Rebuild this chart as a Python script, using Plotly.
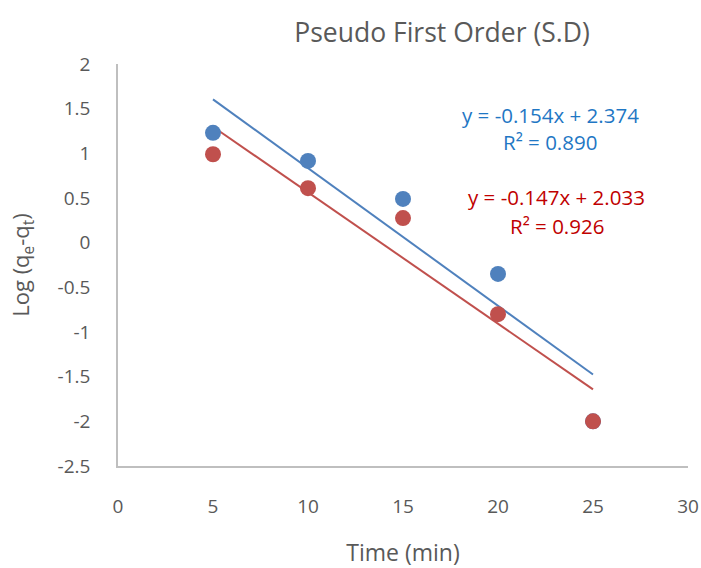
import plotly.graph_objects as go

time_min = [5, 10, 15, 20, 25]
blue_log = [1.23, 0.915, 0.49, -0.35, -2.0]
red_log = [0.99, 0.61, 0.275, -0.80, -2.0]

blue_fit = {"slope": -0.154, "intercept": 2.374, "r2": 0.890}
red_fit = {"slope": -0.147, "intercept": 2.033, "r2": 0.926}

x_ticks = [0, 5, 10, 15, 20, 25, 30]
x_tick_labels = ["0", "5", "10", "15", "20", "25", "30"]
y_ticks = [-2.5, -2, -1.5, -1, -0.5, 0, 0.5, 1, 1.5, 2]
y_tick_labels = ["-2.5", "-2", "-1.5", "-1", "-0.5", "0", "0.5", "1", "1.5", "2"]

BLUE = "#4F81BD"
RED = "#C0504D"
FONT = "Open Sans"
GREY = "#595959"

W, H = 701, 568
PX0, PX1, PY0, PY1 = 118, 688, 64, 466.5

fig = go.Figure()
x_line = [time_min[0], time_min[-1]]
for fit, col in [(blue_fit, BLUE), (red_fit, RED)]:
    fig.add_trace(go.Scatter(
        x=x_line, y=[fit["slope"] * x + fit["intercept"] for x in x_line],
        mode="lines", line=dict(color=col, width=2), showlegend=False, hoverinfo="skip"))
fig.add_trace(go.Scatter(x=time_min, y=blue_log, mode="markers",
                         marker=dict(color=BLUE, size=16), showlegend=False))
fig.add_trace(go.Scatter(x=time_min, y=red_log, mode="markers",
                         marker=dict(color=RED, size=16), showlegend=False))

def eq(fit):
    return f"y = {fit['slope']:.3f}x + {fit['intercept']:.3f}"

ann = [
    dict(text=eq(blue_fit), x=550, y=115, color="#1F77C4"),
    dict(text=f"R² = {blue_fit['r2']:.3f}", x=550, y=142, color="#1F77C4"),
    dict(text=eq(red_fit), x=556, y=197, color="#C00000"),
    dict(text=f"R² = {red_fit['r2']:.3f}", x=557, y=226, color="#C00000"),
]
for a in ann:
    fig.add_annotation(text=a["text"], xref="paper", yref="paper",
                       x=(a["x"] - PX0) / (PX1 - PX0),
                       y=(PY1 - a["y"]) / (PY1 - PY0),
                       showarrow=False, xanchor="center", yanchor="middle",
                       font=dict(family=FONT, size=20.5, color=a["color"]))

fig.update_layout(
    width=W, height=H,
    margin=dict(l=PX0, r=W - PX1, t=PY0, b=H - PY1),
    paper_bgcolor="white", plot_bgcolor="white",
    title=dict(text="Pseudo First Order (S.D)", x=442 / W, xanchor="center",
               xref="container", y=1 - 33 / H, yanchor="middle",
               font=dict(family=FONT, size=26.5, color=GREY)),
    xaxis=dict(range=[0, 30], tickvals=x_ticks, ticktext=x_tick_labels,
               showgrid=False, zeroline=False, automargin=False,
               showline=True, linecolor="#BFBFBF", linewidth=1.5, ticks="",
               ticklabelstandoff=22,
               tickfont=dict(family=FONT, size=19, color=GREY),
               title=dict(text="Time (min)", standoff=31,
                          font=dict(family=FONT, size=23, color=GREY))),
    yaxis=dict(range=[-2.5, 2], tickvals=y_ticks, ticktext=y_tick_labels,
               showgrid=False, zeroline=False, automargin=False,
               showline=True, linecolor="#BFBFBF", linewidth=1.5, ticks="",
               ticklabelstandoff=22,
               tickfont=dict(family=FONT, size=19, color=GREY),
               title=dict(text="Log (q<sub>e</sub>-q<sub>t</sub>)", standoff=22,
                          font=dict(family=FONT, size=22, color=GREY))),
)

fig.write_html("out.html", config={"displayModeBar": False},
               post_script="document.body.style.margin='0';document.body.style.overflow='hidden';")
